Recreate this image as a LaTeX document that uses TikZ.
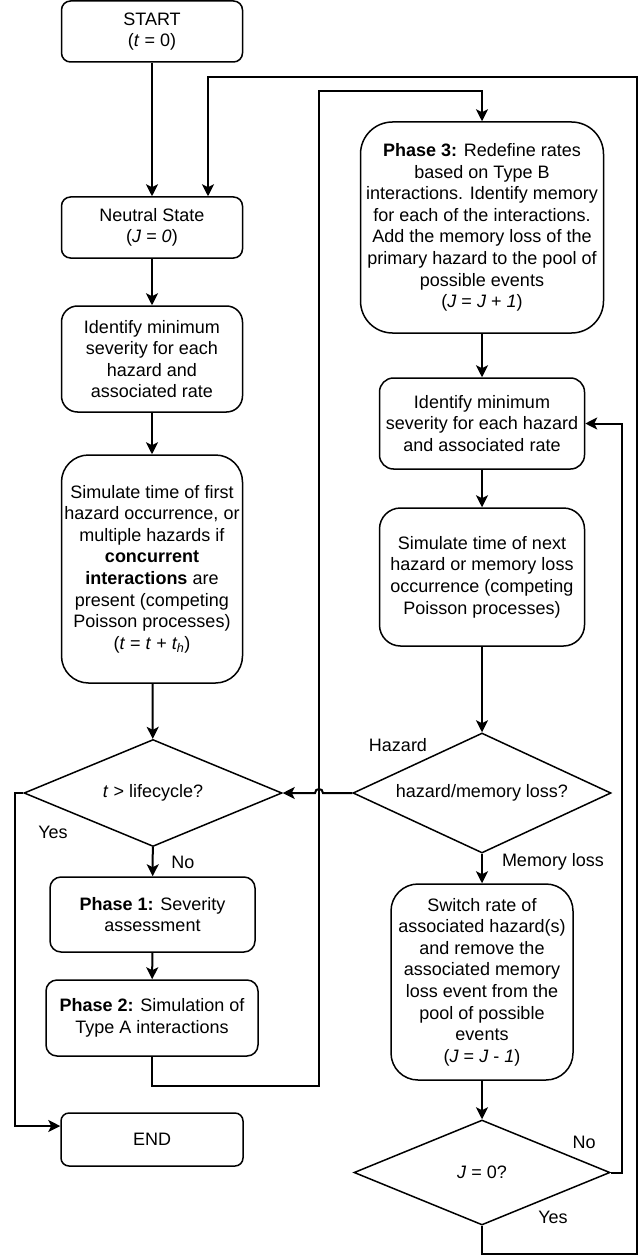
\documentclass[tikz,border=0pt]{standalone}
\usepackage{fontspec}
\setmainfont{Liberation Sans}
\usetikzlibrary{shapes.geometric,arrows.meta}
\begin{document}
\begin{tikzpicture}[x=1pt,y=-1pt,
  txt/.style={font=\fontsize{18}{21.6}\selectfont},
  box/.style={txt, draw, line width=1.5pt, align=center, inner sep=0pt},
  dia/.style={txt, draw, diamond, shape aspect=2.2, line width=1.5pt, align=center, inner sep=0pt},
  conn/.style={line width=2pt, -{Stealth[length=12pt,width=12pt,inset=3pt]}},
  lbl/.style={txt, inner sep=0pt}
]
\useasboundingbox (0,0) rectangle (640,1257);

% left column
\node[box, minimum width=181pt, minimum height=61pt, rounded corners=9pt] (start) at (152,31.5) {START\\(\textit{t} = 0)};
\node[box, minimum width=181pt, minimum height=61pt, rounded corners=9pt] (neutral) at (152,227.5) {Neutral State\\(\textit{J = 0})};
\node[box, minimum width=181pt, minimum height=106pt, rounded corners=16pt] (id1) at (152,359) {Identify minimum\\severity for each\\hazard and\\associated rate};
\node[box, minimum width=181pt, minimum height=228pt, rounded corners=27pt] (sim1) at (152,569) {Simulate time of first\\hazard occurrence, or\\multiple hazards if\\\textbf{concurrent}\\\textbf{interactions} are\\present (competing\\Poisson processes)\\(\textit{t} = \textit{t} + \textit{t\textsubscript{h}})};
\node[dia, minimum width=258pt, minimum height=107pt] (d1) at (153,793) {\textit{t} > lifecycle?};
\node[box, minimum width=205pt, minimum height=75pt, rounded corners=11pt] (ph1) at (152.5,914.5) {\textbf{Phase 1:} Severity\\assessment};
\node[box, minimum width=212pt, minimum height=76pt, rounded corners=11pt] (ph2) at (152,1018) {\textbf{Phase 2:} Simulation of\\Type A interactions};
\node[box, minimum width=182pt, minimum height=53pt, rounded corners=8pt] (end) at (152,1139.5) {END};

% right column
\node[box, minimum width=243pt, minimum height=211pt, rounded corners=32pt] (ph3) at (482,227.5) {\textbf{Phase 3:} Redefine rates\\based on Type B\\interactions. Identify memory\\for each of the interactions.\\Add the memory loss of the\\primary hazard to the pool of\\possible events\\(\textit{J} = \textit{J} + \textit{1})};
\node[box, minimum width=205pt, minimum height=91pt, rounded corners=14pt] (id2) at (482,423.5) {Identify minimum\\severity for each hazard\\and associated rate};
\node[box, minimum width=205pt, minimum height=138pt, rounded corners=21pt] (sim2) at (482,577) {Simulate time of next\\hazard or memory loss\\occurrence (competing\\Poisson processes)};
\node[dia, minimum width=258pt, minimum height=120pt] (d2) at (482,793) {hazard/memory loss?};
\node[box, minimum width=182pt, minimum height=196pt, rounded corners=27pt] (sw) at (482,982) {Switch rate of\\associated hazard(s)\\and remove the\\associated memory\\loss event from the\\pool of possible\\events\\(\textit{J} = \textit{J} - \textit{1})};
\node[dia, minimum width=256pt, minimum height=105pt] (d3) at (482,1172.5) {\textit{J} = 0?};

% labels
\node[lbl] (lyes1) at (53,832) {Yes};
\node[lbl] (lno1) at (183,862) {No};
\node[lbl] (lhaz) at (398,745) {Hazard};
\node[lbl] (lmem) at (553,862) {Memory loss};
\node[lbl] (lno3) at (584,1142) {No};
\node[lbl] (lyes3) at (553,1217) {Yes};

% helper coordinates
\coordinate (o1) at (482,1254);
\coordinate (o2) at (637,1254);
\coordinate (o3) at (637,77);
\coordinate (o4) at (208,77);
\coordinate (l2) at (15,1126);
\coordinate (m1) at (319,1086);
\coordinate (m2) at (319,91);
\coordinate (r1) at (622,0);
\coordinate (hopA) at (323,793);
\coordinate (hopB) at (315,793);

% connectors
\draw[conn] (start) -- (neutral);
\draw[conn] (neutral) -- (id1);
\draw[conn] (id1) -- (sim1);
\draw[conn] (sim1) -- (d1);
\draw[conn] (d1) -- (ph1);
\draw[conn] (ph1) -- (ph2);
\draw[conn] (d1.west) -| (l2) -- (end.west |- l2);
\draw[conn] (ph2.south) |- (m1) -- (m2) -| (ph3.north);
\draw[conn] (ph3) -- (id2);
\draw[conn] (id2) -- (sim2);
\draw[conn] (sim2) -- (d2);
\draw[conn] (d2) -- (sw);
\draw[conn] (sw) -- (d3);
\draw[conn] (d2.west) -- (hopA) .. controls (323,787.7) and (315,787.7) .. (hopB) -- (d1.east);
\draw[conn] (d3.east) -| (id2.east -| r1) -- (id2.east);
\draw[conn] (d3.south) -- (o1) -- (o2) -- (o3) -- (o4) -- (o4 |- neutral.north);
\end{tikzpicture}
\end{document}
